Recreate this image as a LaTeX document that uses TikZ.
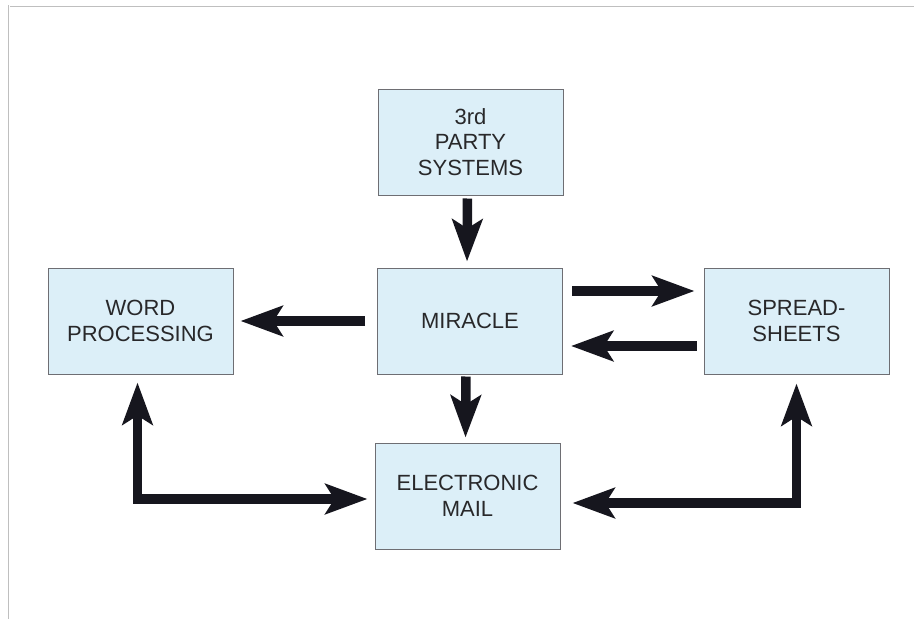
\documentclass[tikz,border=0pt]{standalone}
\usepackage{fontspec}
\setmainfont{Liberation Sans}
\usetikzlibrary{arrows.meta}
\definecolor{boxfill}{RGB}{220,239,248}
\definecolor{boxline}{RGB}{110,110,115}
\definecolor{arrowink}{RGB}{22,22,30}
\definecolor{textink}{RGB}{40,40,42}

\begin{document}
\begin{tikzpicture}[x=1pt, y=-1pt,
    box/.style={rectangle, draw=boxline, line width=1pt, fill=boxfill, minimum width=185pt, minimum height=106pt, align=center, text=textink, font=\fontsize{22}{25.5}\selectfont},
    fat/.style={draw=arrowink, line width=9.5pt, line join=miter, -{Stealth[length=42pt, width=30pt, inset=9pt, fill=arrowink]}},
    fatboth/.style={fat, {Stealth[length=42pt, width=30pt, inset=9pt, fill=arrowink]}-{Stealth[length=42pt, width=30pt, inset=9pt, fill=arrowink]}}]
    \useasboundingbox (0,0) rectangle (914,619);
    \draw[black!25, line width=1pt] (10,6) -- (914,6);
    \draw[black!25, line width=1pt] (8,5) -- (8,619);
    \node[box] (0) at (470.5, 142) {3rd\\PARTY\\SYSTEMS};
    \node[box] (1) at (140.5, 321) {WORD\\PROCESSING};
    \node[box] (2) at (470, 321) {MIRACLE};
    \node[box] (3) at (796.5, 321) {SPREAD-\\SHEETS};
    \node[box] (4) at (467.5, 496) {ELECTRONIC\\MAIL};
    \draw[fat, shorten <=3pt, shorten >=6pt] ([xshift=-3pt]0.south) -- ([xshift=-3pt]2.north);
    \draw[fat, shorten <=12pt, shorten >=7pt] (2.west) -- (1.east);
    \draw[fat, shorten <=9pt, shorten >=9pt] ([yshift=30pt]2.east) -- ([yshift=30pt]3.west);
    \draw[fat, shorten <=7pt, shorten >=8pt] ([yshift=-25pt]3.west) -- ([yshift=-25pt]2.east);
    \draw[fat, shorten <=2pt, shorten >=5pt] ([xshift=-4pt]2.south) -- ([xshift=-2pt]4.north);
    \draw[fatboth, shorten <=8pt, shorten >=7pt] ([xshift=-3pt]1.south) |- ([yshift=-3pt]4.west);
    \draw[fatboth, shorten <=12pt, shorten >=9pt] ([yshift=-7pt]4.east) -| (3.south);
\end{tikzpicture}
\end{document}
